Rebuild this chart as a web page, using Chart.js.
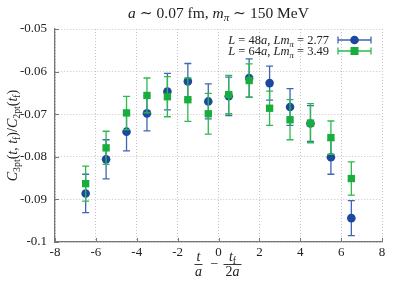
<!DOCTYPE html>
<html>
<head>
<meta charset="utf-8">
<script src="https://cdn.jsdelivr.net/npm/chart.js@4.4.0/dist/chart.umd.min.js"></script>
<style>
  html, body { margin: 0; padding: 0; background: #fff; }
  #wrap { width: 399px; height: 286px; position: relative; }
</style>
</head>
<body>
<div id="wrap"><canvas id="ratioChart" width="399" height="286"></canvas></div>
<script>
// t/a - tf/(2a) positions
const xValues = [-6.5, -5.5, -4.5, -3.5, -2.5, -1.5, -0.5, 0.5, 1.5, 2.5, 3.5, 4.5, 5.5, 6.5];

// L = 48a
const l48Mean = [-0.0886, -0.0806, -0.0741, -0.0698, -0.0647, -0.0623, -0.0670, -0.0658, -0.0615, -0.0627, -0.0683, -0.0722, -0.0801, -0.0944];
const l48Err  = [0.0045, 0.0046, 0.0045, 0.0041, 0.0043, 0.0042, 0.0041, 0.0045, 0.0045, 0.0040, 0.0043, 0.0042, 0.0040, 0.0041];

// L = 64a
const l64Mean = [-0.0863, -0.0779, -0.0697, -0.0656, -0.0659, -0.0666, -0.0699, -0.0654, -0.0621, -0.0686, -0.0713, -0.0721, -0.0755, -0.0851];
const l64Err  = [0.0041, 0.0039, 0.0039, 0.0041, 0.0047, 0.0051, 0.0048, 0.0045, 0.0039, 0.0040, 0.0047, 0.0046, 0.0039, 0.0039];

const xTicks = [-8, -6, -4, -2, 0, 2, 4, 6, 8];
const yTicks = [-0.1, -0.09, -0.08, -0.07, -0.06, -0.05];

const BLUE = '#1d48a0';
const BLUE_BAR = '#3f66b4';
const GREEN = '#18ad3c';
const GREEN_BAR = '#2dba4d';
const SERIF = '"Liberation Serif", "DejaVu Serif", serif';

function toPoints(means) {
    return xValues.map((x, i) => ({ x: x, y: means[i] }));
}

// draw a run of text pieces, some italic, some subscript
function richWidth(ctx, parts, size) {
    let w = 0;
    parts.forEach(p => {
        let s = p.sub ? size * 0.7 : size;
        ctx.font = (p.it ? 'italic ' : '') + s + 'px ' + SERIF;
        w += ctx.measureText(p.t).width;
    });
    return w;
}

function drawRich(ctx, parts, x, y, size, align) {
    let w = richWidth(ctx, parts, size);
    let cx = x;
    if (align === 'center') cx = x - w / 2;
    if (align === 'right') cx = x - w;
    ctx.textAlign = 'left';
    ctx.textBaseline = 'alphabetic';
    parts.forEach(p => {
        let s = p.sub ? size * 0.7 : size;
        ctx.font = (p.it ? 'italic ' : '') + s + 'px ' + SERIF;
        ctx.fillText(p.t, cx, p.sub ? y + size * 0.22 : y);
        cx += ctx.measureText(p.t).width;
    });
}

const errorBars = {
    id: 'errorBars',
    beforeDatasetDraw(chart, args) {
        const ds = chart.data.datasets[args.index];
        const xs = chart.scales.x, ys = chart.scales.y;
        const ctx = chart.ctx;
        ctx.save();
        ctx.strokeStyle = ds.barColor;
        ctx.lineWidth = 1.3;
        ds.data.forEach((p, i) => {
            const px = xs.getPixelForValue(p.x);
            const top = ys.getPixelForValue(p.y + ds.errors[i]);
            const bot = ys.getPixelForValue(p.y - ds.errors[i]);
            ctx.beginPath();
            ctx.moveTo(px, top); ctx.lineTo(px, bot);
            ctx.moveTo(px - 3.5, top); ctx.lineTo(px + 3.5, top);
            ctx.moveTo(px - 3.5, bot); ctx.lineTo(px + 3.5, bot);
            ctx.stroke();
        });
        ctx.restore();
    }
};

const decorations = {
    id: 'decorations',
    afterDraw(chart) {
        const ctx = chart.ctx;
        const area = chart.chartArea;
        const xs = chart.scales.x, ys = chart.scales.y;
        ctx.save();

        // inner tick marks on left and bottom axes
        ctx.strokeStyle = '#777';
        ctx.lineWidth = 1;
        ctx.beginPath();
        yTicks.forEach(v => {
            const py = Math.round(ys.getPixelForValue(v)) + 0.5;
            ctx.moveTo(area.left, py); ctx.lineTo(area.left + 4, py);
        });
        xTicks.forEach(v => {
            const px = Math.round(xs.getPixelForValue(v)) + 0.5;
            ctx.moveTo(px, area.bottom); ctx.lineTo(px, area.bottom - 4);
        });
        ctx.stroke();

        ctx.fillStyle = '#222';
        // title
        drawRich(ctx, [
            { t: 'a', it: true }, { t: ' \u223C 0.07 fm, ' },
            { t: 'm', it: true }, { t: '\u03C0', it: true, sub: true },
            { t: ' \u223C 150 MeV' }
        ], (area.left + area.right) / 2, 18, 15.5, 'center');

        // x axis title: t/a - tf/(2a)
        const cx = (area.left + area.right) / 2;
        const barY = 264;
        ctx.font = 'italic 14px ' + SERIF;
        ctx.textAlign = 'center';
        ctx.fillText('t', cx - 20, barY - 3);
        ctx.fillText('a', cx - 20, barY + 12);
        ctx.fillRect(cx - 24, barY, 8, 0.9);
        ctx.font = '14px ' + SERIF;
        ctx.fillText('\u2212', cx - 4, barY + 4);
        drawRich(ctx, [{ t: 't', it: true }, { t: 'f', sub: true }], cx + 14, barY - 3, 14, 'center');
        drawRich(ctx, [{ t: '2' }, { t: 'a', it: true }], cx + 14, barY + 12, 14, 'center');
        ctx.fillRect(cx + 5, barY, 18, 0.9);

        // y axis title, rotated
        ctx.save();
        ctx.translate(17, (area.top + area.bottom) / 2);
        ctx.rotate(-Math.PI / 2);
        drawRich(ctx, [
            { t: 'C', it: true }, { t: '3pt', sub: true }, { t: '(' },
            { t: 't', it: true }, { t: ', ' }, { t: 't', it: true }, { t: 'f', sub: true },
            { t: ')/' }, { t: 'C', it: true }, { t: '2pt', sub: true }, { t: '(' },
            { t: 't', it: true }, { t: 'f', sub: true }, { t: ')' }
        ], 0, 0, 14, 'center');
        ctx.restore();

        // legend
        const rows = [
            { label: '48a', lm: '2.77', color: BLUE, bar: BLUE_BAR, shape: 'circle', y: 40 },
            { label: '64a', lm: '3.49', color: GREEN, bar: GREEN_BAR, shape: 'rect', y: 51 }
        ];
        rows.forEach(r => {
            ctx.fillStyle = '#222';
            drawRich(ctx, [
                { t: 'L', it: true }, { t: ' = ' + r.label.slice(0, 2) }, { t: 'a', it: true },
                { t: ', ' }, { t: 'Lm', it: true }, { t: '\u03C0', it: true, sub: true },
                { t: ' = ' + r.lm }
            ], 329, r.y + 4, 12.5, 'right');
            ctx.strokeStyle = r.bar;
            ctx.lineWidth = 1.3;
            ctx.beginPath();
            ctx.moveTo(338, r.y); ctx.lineTo(371, r.y);
            ctx.moveTo(338, r.y - 3.5); ctx.lineTo(338, r.y + 3.5);
            ctx.moveTo(371, r.y - 3.5); ctx.lineTo(371, r.y + 3.5);
            ctx.stroke();
            ctx.fillStyle = r.color;
            if (r.shape === 'circle') {
                ctx.beginPath();
                ctx.arc(354.5, r.y, 4.3, 0, Math.PI * 2);
                ctx.fill();
            } else {
                ctx.fillRect(350.5, r.y - 4, 8, 8);
            }
        });
        ctx.restore();
    }
};

const chart = new Chart(document.getElementById('ratioChart'), {
    type: 'scatter',
    data: {
        datasets: [
            {
                label: 'L = 48a',
                data: toPoints(l48Mean),
                errors: l48Err,
                barColor: BLUE_BAR,
                backgroundColor: BLUE,
                borderColor: BLUE,
                pointStyle: 'circle',
                pointRadius: 4.3,
                pointBorderWidth: 0,
                order: 2
            },
            {
                label: 'L = 64a',
                data: toPoints(l64Mean),
                errors: l64Err,
                barColor: GREEN_BAR,
                backgroundColor: GREEN,
                borderColor: GREEN,
                pointStyle: 'rect',
                pointRadius: 5.2,
                pointBorderWidth: 0,
                order: 1
            }
        ]
    },
    options: {
        responsive: false,
        animation: false,
        devicePixelRatio: 1,
        layout: { padding: { top: 29, right: 17, left: 0, bottom: 0 } },
        plugins: {
            legend: { display: false },
            title: { display: false },
            tooltip: { enabled: false }
        },
        scales: {
            x: {
                type: 'linear',
                min: -8, max: 8,
                afterFit: s => { s.height = 44; },
                afterBuildTicks: s => { s.ticks = xTicks.map(v => ({ value: v })); },
                ticks: {
                    autoSkip: false,
                    maxRotation: 0,
                    color: '#222',
                    padding: 3,
                    font: { family: SERIF, size: 13 },
                    callback: v => String(v)
                },
                grid: { color: '#c4c4c4', drawTicks: false, lineWidth: 1 },
                border: { color: '#777', width: 1.3, dash: [1, 2] }
            },
            y: {
                type: 'linear',
                min: -0.1, max: -0.05,
                afterFit: s => { s.width = 55; },
                afterBuildTicks: s => { s.ticks = yTicks.map(v => ({ value: v })); },
                ticks: {
                    autoSkip: false,
                    color: '#222',
                    padding: 8,
                    font: { family: SERIF, size: 13 },
                    callback: v => (v === -0.1 ? '-0.1' : v.toFixed(2))
                },
                grid: { color: '#c4c4c4', drawTicks: false, lineWidth: 1 },
                border: { color: '#777', width: 1.3, dash: [1, 2] }
            }
        }
    },
    plugins: [errorBars, decorations]
});
</script>
</body>
</html>
